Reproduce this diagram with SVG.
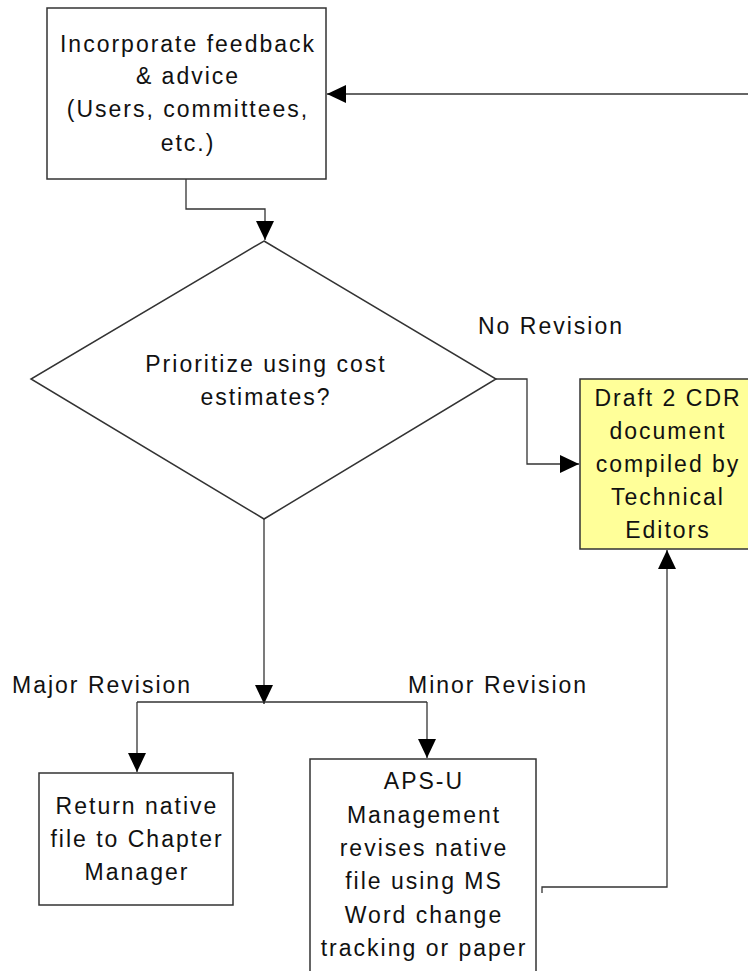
<svg xmlns="http://www.w3.org/2000/svg" width="748" height="971" viewBox="0 0 748 971">
  <style>
    .box { fill: #ffffff; stroke: #333333; stroke-width: 1.5; }
    .yellow { fill: #ffff99; stroke: #333333; stroke-width: 1.5; }
    .conn { fill: none; stroke: #333333; stroke-width: 1.3; }
    .t { font-family: "Liberation Sans", Arial, sans-serif; font-size: 23px; fill: #111111; letter-spacing: 2px; }
    .c { text-anchor: middle; }
  </style>
  <defs>
    <marker id="arrow" markerUnits="userSpaceOnUse" markerWidth="20" markerHeight="20" refX="19" refY="9" orient="auto">
      <path d="M0,0 L19,9 L0,18 Z" fill="#000000"/>
    </marker>
  </defs>
  <rect width="748" height="971" fill="#ffffff"/>

  <g id="feedback">
    <rect class="box" x="47" y="8" width="279" height="171"/>
    <text class="t c" x="188" y="52">Incorporate feedback</text>
    <text class="t c" x="188" y="84">&amp; advice</text>
    <text class="t c" x="188" y="117">(Users, committees,</text>
    <text class="t c" x="188" y="151">etc.)</text>
  </g>

  <g id="prioritize">
    <polygon class="box" points="264,241 496,379 264,519 31,379"/>
    <text class="t c" x="266" y="372">Prioritize using cost</text>
    <text class="t c" x="266" y="405">estimates?</text>
  </g>

  <g id="draft2">
    <rect class="yellow" x="580" y="379" width="175" height="170"/>
    <text class="t c" x="668" y="406">Draft 2 CDR</text>
    <text class="t c" x="668" y="439">document</text>
    <text class="t c" x="668" y="472">compiled by</text>
    <text class="t c" x="668" y="505">Technical</text>
    <text class="t c" x="668" y="538">Editors</text>
  </g>

  <g id="return">
    <rect class="box" x="39" y="773" width="194" height="132"/>
    <text class="t c" x="137" y="814">Return native</text>
    <text class="t c" x="137" y="847">file to Chapter</text>
    <text class="t c" x="137" y="880">Manager</text>
  </g>

  <g id="apsu">
    <rect class="box" x="310" y="759" width="226" height="230"/>
    <text class="t c" x="424" y="789">APS-U</text>
    <text class="t c" x="424" y="823">Management</text>
    <text class="t c" x="424" y="856">revises native</text>
    <text class="t c" x="424" y="889">file using MS</text>
    <text class="t c" x="424" y="923">Word change</text>
    <text class="t c" x="424" y="956">tracking or paper</text>
  </g>

  <g id="connectors">
    <path class="conn" d="M748,94 H327" marker-end="url(#arrow)"/>
    <path class="conn" d="M186,179 V209 H265 V240" marker-end="url(#arrow)"/>
    <path class="conn" d="M496,379 H527 V464 H579" marker-end="url(#arrow)"/>
    <path class="conn" d="M264,519 V704" marker-end="url(#arrow)"/>
    <path class="conn" d="M137,702 H427"/>
    <path class="conn" d="M137,702 V772" marker-end="url(#arrow)"/>
    <path class="conn" d="M427,702 V758" marker-end="url(#arrow)"/>
    <path class="conn" d="M542,893 V887 H667 V550" marker-end="url(#arrow)"/>
    <text class="t" x="478" y="334">No Revision</text>
    <text class="t" x="12" y="693">Major Revision</text>
    <text class="t" x="408" y="693">Minor Revision</text>
  </g>
</svg>
